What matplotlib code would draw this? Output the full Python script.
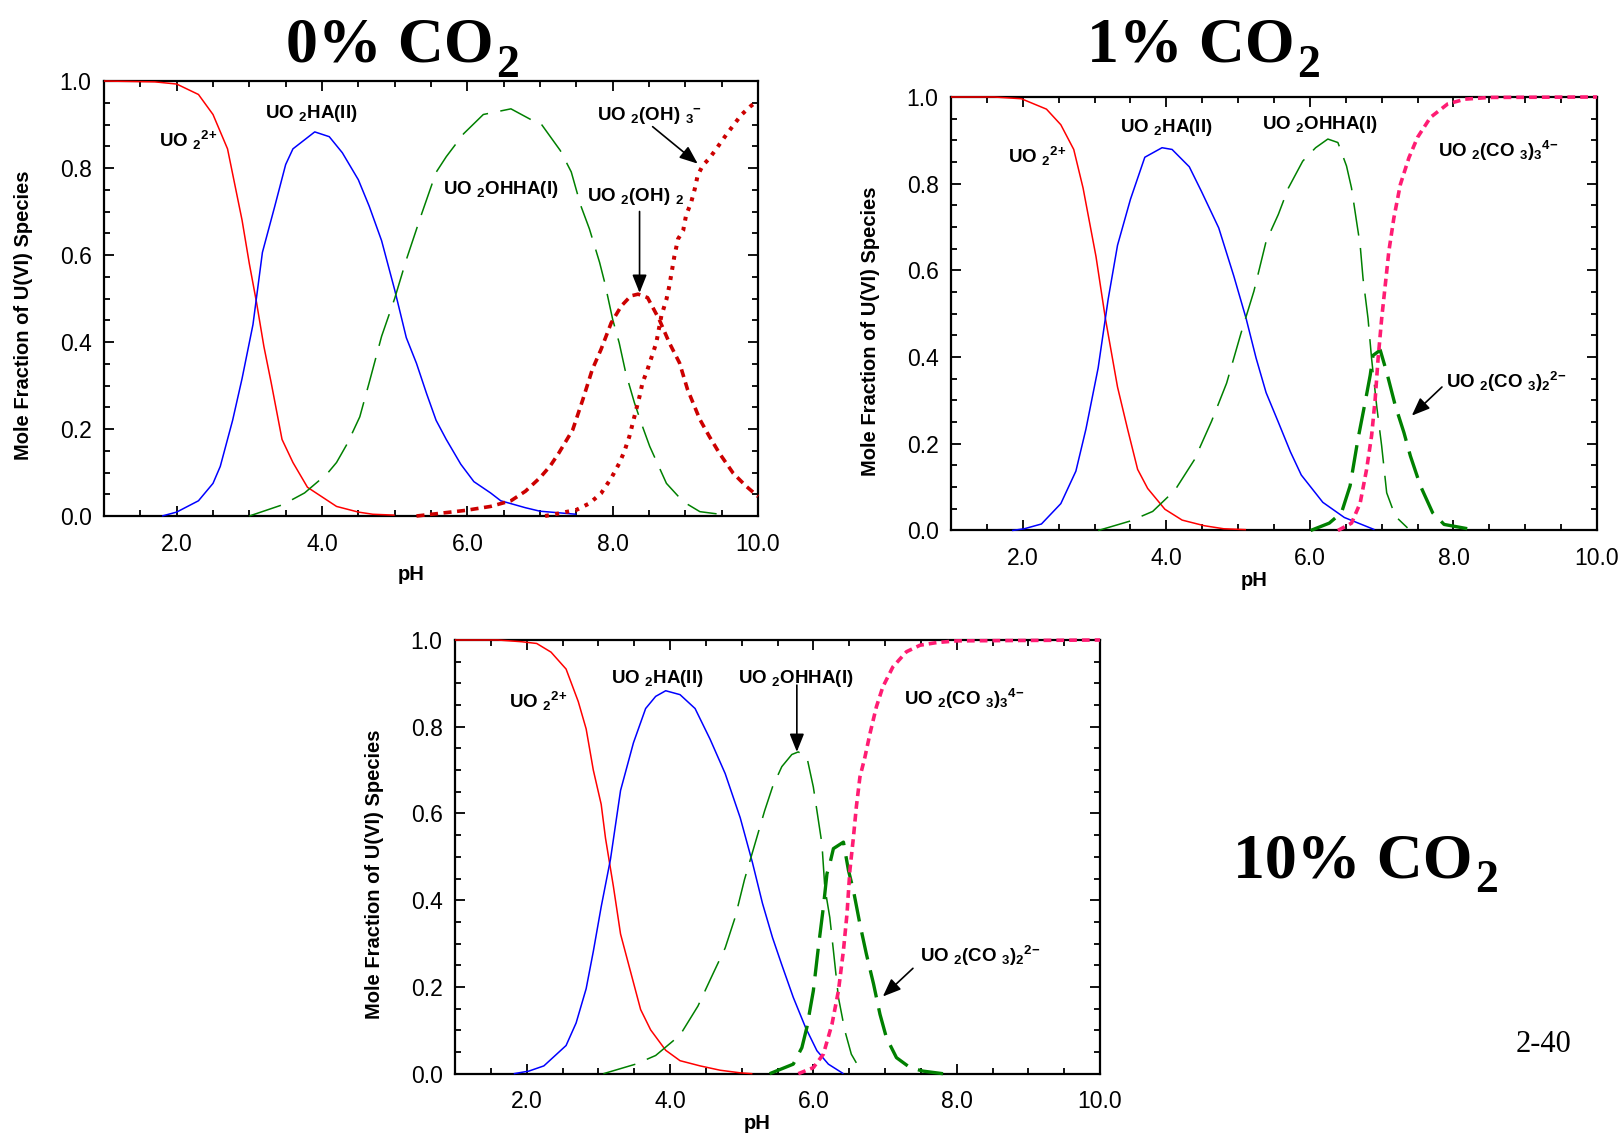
import matplotlib
matplotlib.use('Agg')
import matplotlib.pyplot as plt
from matplotlib import font_manager as fm
from matplotlib.text import Annotation
from matplotlib.ticker import MultipleLocator, FormatStrFormatter

# ---------------- data ----------------
# 0 % CO2
p0_uo2_ph = [1.0, 1.7, 2.0, 2.3, 2.5, 2.7, 2.9, 3.0, 3.1, 3.2, 3.3, 3.45, 3.6, 3.8, 4.0, 4.2, 4.5, 4.7, 5.0]
p0_uo2_y = [1.0, 0.998, 0.993, 0.969, 0.923, 0.844, 0.68, 0.58, 0.49, 0.39, 0.307, 0.176, 0.123, 0.066, 0.044, 0.022, 0.009, 0.004, 0.002]
p0_ha_ph = [1.8, 2.0, 2.3, 2.5, 2.6, 2.77, 2.9, 3.05, 3.18, 3.35, 3.5, 3.6, 3.9, 4.1, 4.28, 4.5, 4.65, 4.82, 5.0, 5.16,
            5.3, 5.44, 5.57, 5.71, 5.91, 6.09, 6.32, 6.46, 6.8, 7.0, 7.5]
p0_ha_y = [0.0, 0.009, 0.035, 0.075, 0.114, 0.22, 0.316, 0.44, 0.606, 0.712, 0.808, 0.844, 0.883, 0.872, 0.835, 0.773,
           0.712, 0.633, 0.52, 0.41, 0.351, 0.281, 0.22, 0.176, 0.119, 0.079, 0.053, 0.035, 0.019, 0.011, 0.004]
p0_ohha_ph = [3.0, 3.46, 3.76, 4.07, 4.2, 4.35, 4.52, 4.65, 4.82, 5.0, 5.16, 5.37, 5.57, 5.71, 5.95, 6.22, 6.6, 6.9, 7.0,
              7.28, 7.43, 7.56, 7.68, 7.82, 7.89, 8.0, 8.09, 8.18, 8.30, 8.41, 8.51, 8.74, 8.97, 9.2, 9.43]
p0_ohha_y = [0.0, 0.026, 0.053, 0.097, 0.123, 0.167, 0.228, 0.307, 0.413, 0.50, 0.589, 0.694, 0.79, 0.826, 0.879, 0.923,
             0.936, 0.909, 0.905, 0.84, 0.791, 0.714, 0.66, 0.583, 0.537, 0.452, 0.398, 0.329, 0.26, 0.206, 0.16, 0.075,
             0.033, 0.01, 0.005]
p0_oh2_ph = [5.3, 5.98, 6.32, 6.6, 6.8, 7.0, 7.14, 7.26, 7.45, 7.59, 7.72, 7.84, 7.98, 8.12, 8.25, 8.35, 8.48, 8.64, 8.78,
             8.92, 9.03, 9.20, 9.33, 9.47, 9.66, 9.84, 10.0]
p0_oh2_y = [0.0, 0.013, 0.022, 0.035, 0.057, 0.088, 0.115, 0.145, 0.198, 0.268, 0.337, 0.383, 0.444, 0.483, 0.506, 0.51,
            0.502, 0.452, 0.398, 0.352, 0.291, 0.222, 0.183, 0.144, 0.098, 0.068, 0.045]
p0_oh3_ph = [7.07, 7.26, 7.5, 7.68, 7.84, 7.98, 8.09, 8.16, 8.23, 8.30, 8.37, 8.41, 8.48, 8.60, 8.67, 8.74, 8.78, 8.85,
             8.90, 8.97, 9.01, 9.08, 9.13, 9.17, 9.24, 9.33, 9.43, 9.54, 9.66, 9.77, 9.89, 10.0]
p0_oh3_y = [0.0, 0.006, 0.014, 0.029, 0.052, 0.087, 0.121, 0.148, 0.183, 0.229, 0.275, 0.306, 0.337, 0.398, 0.46, 0.498,
            0.529, 0.598, 0.637, 0.656, 0.691, 0.721, 0.752, 0.783, 0.806, 0.822, 0.845, 0.871, 0.898, 0.922, 0.941, 0.955]

# 1 % CO2
p1_uo2_ph = [1.0, 1.6, 1.98, 2.33, 2.53, 2.71, 2.84, 3.02, 3.15, 3.32, 3.46, 3.60, 3.74, 3.98, 4.22, 4.53, 4.8, 5.11]
p1_uo2_y = [1.0, 1.0, 0.996, 0.972, 0.936, 0.879, 0.79, 0.632, 0.49, 0.331, 0.234, 0.141, 0.097, 0.049, 0.024, 0.011, 0.004, 0.002]
p1_ha_ph = [1.85, 2.02, 2.26, 2.53, 2.74, 2.88, 3.05, 3.19, 3.32, 3.50, 3.70, 3.94, 4.08, 4.32, 4.49, 4.73, 4.94, 5.11,
            5.25, 5.39, 5.56, 5.73, 5.88, 6.18, 6.48, 6.66, 6.9]
p1_ha_y = [0.0, 0.004, 0.015, 0.062, 0.137, 0.234, 0.375, 0.534, 0.658, 0.764, 0.861, 0.883, 0.879, 0.839, 0.782, 0.698,
           0.587, 0.49, 0.398, 0.318, 0.25, 0.181, 0.128, 0.065, 0.03, 0.018, 0.002]
p1_ohha_ph = [3.05, 3.5, 3.81, 4.12, 4.39, 4.63, 4.84, 5.04, 5.22, 5.39, 5.56, 5.70, 5.90, 6.08, 6.25, 6.39, 6.51, 6.58,
              6.65, 6.70, 6.74, 6.81, 6.86, 6.93, 7.0, 7.07, 7.19, 7.36]
p1_ohha_y = [0.0, 0.022, 0.044, 0.093, 0.163, 0.252, 0.34, 0.455, 0.552, 0.667, 0.729, 0.79, 0.852, 0.883, 0.903, 0.895,
             0.841, 0.79, 0.713, 0.659, 0.582, 0.489, 0.396, 0.288, 0.195, 0.087, 0.033, 0.006]
p1_co32_ph = [6.01, 6.27, 6.44, 6.56, 6.67, 6.77, 6.84, 6.88, 6.98, 7.07, 7.19, 7.31, 7.40, 7.54, 7.71, 7.87, 8.2, 8.34]
p1_co32_y = [0.0, 0.017, 0.041, 0.103, 0.211, 0.296, 0.358, 0.404, 0.416, 0.365, 0.288, 0.226, 0.172, 0.103, 0.041,
             0.014, 0.004, 0.0]
p1_co33_ph = [6.39, 6.58, 6.70, 6.79, 6.86, 6.91, 6.95, 7.0, 7.05, 7.10, 7.17, 7.26, 7.38, 7.50, 7.68, 7.92, 8.16, 8.5, 10.0]
p1_co33_y = [0.0, 0.017, 0.063, 0.141, 0.219, 0.304, 0.396, 0.489, 0.566, 0.644, 0.721, 0.798, 0.86, 0.907, 0.953,
             0.984, 0.995, 0.999, 1.0]

# 10 % CO2
p10_uo2_ph = [1.0, 1.6, 1.93, 2.14, 2.34, 2.55, 2.72, 2.83, 2.93, 3.04, 3.10, 3.21, 3.31, 3.45, 3.59, 3.73, 3.94, 4.14,
              4.42, 4.7, 4.98, 5.15]
p10_uo2_y = [1.0, 1.0, 0.996, 0.992, 0.972, 0.933, 0.858, 0.795, 0.70, 0.621, 0.543, 0.432, 0.322, 0.235, 0.148, 0.101,
             0.054, 0.03, 0.018, 0.008, 0.002, 0.0]
p10_ha_ph = [1.82, 2.03, 2.24, 2.55, 2.69, 2.83, 2.93, 3.04, 3.17, 3.31, 3.49, 3.66, 3.80, 3.94, 4.14, 4.35, 4.56, 4.77,
             4.98, 5.15, 5.29, 5.43, 5.56, 5.72, 5.89, 6.05, 6.21, 6.42]
p10_ha_y = [0.0, 0.006, 0.018, 0.065, 0.117, 0.196, 0.282, 0.385, 0.495, 0.653, 0.763, 0.842, 0.87, 0.883, 0.874, 0.842,
            0.771, 0.692, 0.59, 0.487, 0.393, 0.314, 0.251, 0.176, 0.107, 0.053, 0.022, 0.0]
p10_ohha_ph = [3.07, 3.52, 3.80, 4.14, 4.39, 4.59, 4.77, 4.91, 5.04, 5.18, 5.32, 5.43, 5.56, 5.70, 5.79, 5.91, 6.0, 6.12,
               6.16, 6.23, 6.28, 6.35, 6.44, 6.53, 6.6]
p10_ohha_y = [0.0, 0.022, 0.042, 0.089, 0.156, 0.227, 0.29, 0.361, 0.448, 0.527, 0.606, 0.661, 0.708, 0.736, 0.742,
              0.73, 0.661, 0.53, 0.43, 0.36, 0.284, 0.176, 0.099, 0.045, 0.025]
p10_co32_ph = [5.39, 5.6, 5.72, 5.84, 5.91, 6.0, 6.07, 6.14, 6.19, 6.23, 6.28, 6.42, 6.49, 6.56, 6.65, 6.74, 6.84, 6.93,
               7.02, 7.16, 7.35, 7.53, 7.81]
p10_co32_y = [0.0, 0.014, 0.022, 0.06, 0.107, 0.191, 0.291, 0.384, 0.461, 0.484, 0.519, 0.534, 0.469, 0.422, 0.345,
              0.276, 0.207, 0.137, 0.083, 0.037, 0.014, 0.006, 0.0]
p10_co33_ph = [5.79, 6.0, 6.14, 6.26, 6.35, 6.42, 6.47, 6.51, 6.56, 6.60, 6.65, 6.72, 6.79, 6.88, 6.97, 7.11, 7.30, 7.49,
               7.72, 8.0, 10.0]
p10_co33_y = [0.0, 0.014, 0.045, 0.114, 0.191, 0.284, 0.369, 0.469, 0.546, 0.615, 0.684, 0.73, 0.784, 0.846, 0.892,
              0.938, 0.973, 0.988, 0.994, 0.998, 1.0]

x_ticks = [2.0, 4.0, 6.0, 8.0, 10.0]
y_ticks = [0.0, 0.2, 0.4, 0.6, 0.8, 1.0]

# species labels
LBL_UO2 = r'$UO\ {}_{2}{}^{2{+}}$'
LBL_HA = r'$UO\ {}_{2}HA(II)$'
LBL_OHHA = r'$UO\ {}_{2}OHHA(I)$'
LBL_OH2 = r'$UO\ {}_{2}(OH)\ {}_{2}$'
LBL_OH3 = r'$UO\ {}_{2}(OH)\ {}_{3}{}^{-}$'
LBL_CO33 = r'$UO\ {}_{2}(CO\ {}_{3})_{3}{}^{4{-}}$'
LBL_CO32 = r'$UO\ {}_{2}(CO\ {}_{3})_{2}{}^{2{-}}$'

# ---------------- style ----------------
names = {f.name for f in fm.fontManager.ttflist}
NARROW = 'Liberation Sans Narrow' if 'Liberation Sans Narrow' in names else 'Liberation Sans'
LABEL_SIZE = 15 if NARROW == 'Liberation Sans Narrow' else 13.5

plt.rcParams.update({
    'font.family': ['Liberation Sans', 'DejaVu Sans'],
    'mathtext.fontset': 'custom',
    'mathtext.rm': 'Liberation Serif:bold',
    'mathtext.bf': NARROW + ':bold',
    'mathtext.it': NARROW + ':bold',
    'mathtext.sf': NARROW + ':bold',
    'mathtext.default': 'bf',
    'lines.scale_dashes': False,
})

RED = '#ff0000'
BLUE = '#0000ff'
GREEN = '#008000'
DKRED = '#cc0000'
PINK = '#ff1c73'

STY_UO2 = dict(color=RED, lw=1.1)
STY_HA = dict(color=BLUE, lw=1.1)
STY_OHHA = dict(color=GREEN, lw=1.1, dashes=(24, 9))
STY_OH2 = dict(color=DKRED, lw=2.6, dashes=(5.8, 4.0))
STY_OH3 = dict(color=DKRED, lw=2.9, dashes=(2.8, 4.6))
STY_CO32 = dict(color=GREEN, lw=2.4, dashes=(20, 8))
STY_CO33 = dict(color=PINK, lw=2.6, dashes=(5.6, 3.6))

FIG_W, FIG_H = 1619, 1136
fig = plt.figure(figsize=(FIG_W / 100, FIG_H / 100), dpi=100)


def px_axes(l, t, r, b):
    return fig.add_axes([l / FIG_W, 1 - b / FIG_H, (r - l) / FIG_W, (b - t) / FIG_H])


def style_axes(ax, xlab_off):
    ax.set_xlim(1.0, 10.0)
    ax.set_ylim(0.0, 1.0)
    ax.set_xticks(x_ticks)
    ax.set_yticks(y_ticks)
    ax.xaxis.set_minor_locator(MultipleLocator(0.5))
    ax.yaxis.set_minor_locator(MultipleLocator(0.05))
    ax.xaxis.set_major_formatter(FormatStrFormatter('%.1f'))
    ax.yaxis.set_major_formatter(FormatStrFormatter('%.1f'))
    ax.tick_params(which='both', direction='in', top=True, right=True, width=1.3, labelsize=16.5)
    ax.tick_params(which='major', length=7)
    ax.tick_params(which='minor', length=4)
    ax.tick_params(axis='x', pad=12)
    ax.tick_params(axis='y', pad=9)
    for sp in ax.spines.values():
        sp.set_linewidth(1.6)
    bb = ax.get_position()
    w_px = bb.width * FIG_W
    h_px = bb.height * FIG_H
    ax.set_ylabel('Mole Fraction of U(VI) Species', fontsize=14.5, fontweight='bold', va='center')
    ax.yaxis.set_label_coords(-81 / w_px, 0.5 - 17 / h_px)
    ax.set_xlabel('pH', fontsize=14.5, fontweight='bold', va='center')
    ax.xaxis.set_label_coords(0.5 - 20 / w_px, -xlab_off / h_px)


def curve(ax, x, y, sty):
    ax.plot(x, y, clip_on=False, zorder=3, solid_capstyle='butt', dash_capstyle='butt', **sty)


def label(ax, x, y, s):
    ax.text(x, y, s, fontsize=LABEL_SIZE, ha='left', va='baseline', zorder=5)


def arrow(ax, start, tip):
    ax.annotate('', xy=tip, xytext=start, zorder=5,
                arrowprops=dict(arrowstyle='-|>,head_length=0.55,head_width=0.22', color='k', lw=1.2,
                                mutation_scale=20, shrinkA=0, shrinkB=0))


# ---------------- 0 % CO2 ----------------
ax0 = px_axes(104, 81, 758, 516)
style_axes(ax0, 59)
curve(ax0, p0_uo2_ph, p0_uo2_y, STY_UO2)
curve(ax0, p0_ha_ph, p0_ha_y, STY_HA)
curve(ax0, p0_ohha_ph, p0_ohha_y, STY_OHHA)
curve(ax0, p0_oh2_ph, p0_oh2_y, STY_OH2)
curve(ax0, p0_oh3_ph, p0_oh3_y, STY_OH3)
label(ax0, 1.76, 0.848, LBL_UO2)
label(ax0, 3.22, 0.916, LBL_HA)
label(ax0, 5.66, 0.740, LBL_OHHA)
label(ax0, 7.65, 0.723, LBL_OH2)
label(ax0, 7.79, 0.911, LBL_OH3)
arrow(ax0, (8.37, 0.70), (8.37, 0.513))
arrow(ax0, (8.55, 0.895), (9.17, 0.81))

# ---------------- 1 % CO2 ----------------
ax1 = px_axes(951, 97, 1597, 530.5)
style_axes(ax1, 50)
curve(ax1, p1_uo2_ph, p1_uo2_y, STY_UO2)
curve(ax1, p1_ha_ph, p1_ha_y, STY_HA)
curve(ax1, p1_ohha_ph, p1_ohha_y, STY_OHHA)
curve(ax1, p1_co32_ph, p1_co32_y, STY_CO32)
curve(ax1, p1_co33_ph, p1_co33_y, STY_CO33)
label(ax1, 1.79, 0.847, LBL_UO2)
label(ax1, 3.36, 0.919, LBL_HA)
label(ax1, 5.33, 0.927, LBL_OHHA)
label(ax1, 7.78, 0.861, LBL_CO33)
label(ax1, 7.90, 0.329, LBL_CO32)
arrow(ax1, (7.84, 0.331), (7.42, 0.265))

# ---------------- 10 % CO2 ----------------
ax2 = px_axes(455, 640, 1100, 1073.7)
style_axes(ax2, 50)
curve(ax2, p10_uo2_ph, p10_uo2_y, STY_UO2)
curve(ax2, p10_ha_ph, p10_ha_y, STY_HA)
curve(ax2, p10_ohha_ph, p10_ohha_y, STY_OHHA)
curve(ax2, p10_co32_ph, p10_co32_y, STY_CO32)
curve(ax2, p10_co33_ph, p10_co33_y, STY_CO33)
label(ax2, 1.75, 0.844, LBL_UO2)
label(ax2, 3.18, 0.902, LBL_HA)
label(ax2, 4.95, 0.900, LBL_OHHA)
label(ax2, 7.26, 0.850, LBL_CO33)
label(ax2, 7.49, 0.257, LBL_CO32)
arrow(ax2, (5.77, 0.896), (5.77, 0.742))
arrow(ax2, (7.39, 0.243), (6.97, 0.178))


# ---------------- titles ----------------
def title(x_px, base_px, main):
    t = fig.text(x_px / FIG_W, 1 - base_px / FIG_H, main, family='Liberation Serif', fontweight='bold',
                 fontsize=46, ha='left', va='baseline')
    sub = Annotation('2', xy=(1, 0), xycoords=t, xytext=(2, -1), textcoords='offset points',
                     family='Liberation Serif', fontweight='bold', fontsize=33, ha='left', va='baseline')
    fig.add_artist(sub)


title(286, 62, '0% CO')
title(1087, 62, '1% CO')
title(1233, 877, '10% CO')
fig.text(1543 / FIG_W, 1 - 1045 / FIG_H, '2-40', family='Liberation Serif', fontsize=22, ha='center', va='center')

fig.savefig('out.png', dpi=100)
